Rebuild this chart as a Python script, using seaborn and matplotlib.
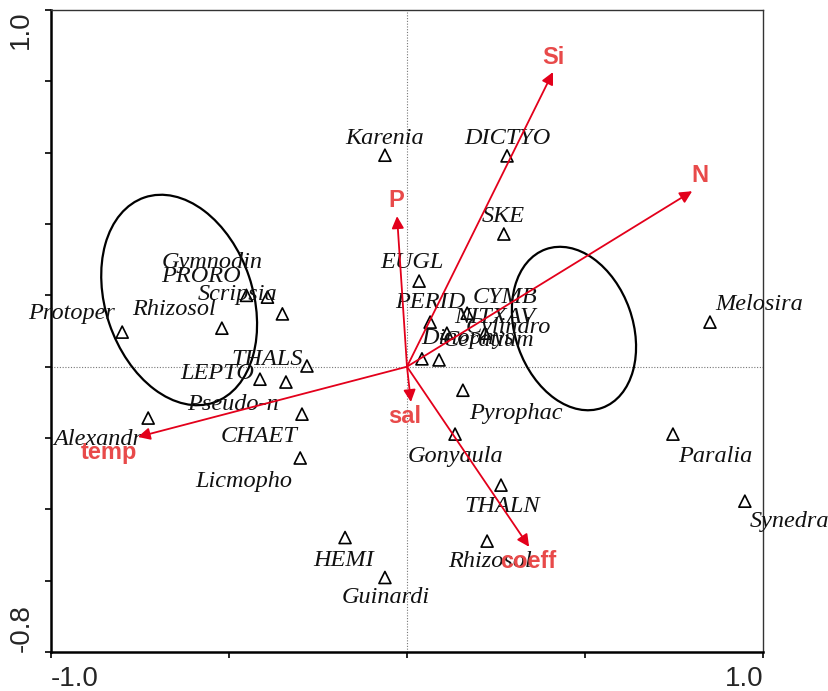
import numpy as np
import pandas as pd
import seaborn as sns
import matplotlib.pyplot as plt
from matplotlib.patches import Ellipse

# Species scores (axis 1, axis 2)
species = ["Karenia", "DICTYO", "SKE", "EUGL", "PERID", "CYMB", "NITXAV", "Cylindro",
           "Dinophys", "Ceratium", "Gymnodin", "PRORO", "Scripsia", "Rhizosol", "Protoper",
           "THALS", "LEPTO", "Pseudo-n", "CHAET", "Alexandr", "Licmopho", "HEMI", "Guinardi",
           "Pyrophac", "Gonyaula", "THALN", "Rhizosol", "Paralia", "Synedra", "Melosira"]
sp_x = [-0.062, 0.281, 0.272, 0.034, 0.065, 0.169, 0.112, 0.219,
        0.042, 0.090, -0.451, -0.392, -0.350, -0.520, -0.800,
        -0.281, -0.413, -0.340, -0.295, -0.727, -0.300, -0.174, -0.062,
        0.157, 0.135, 0.264, 0.225, 0.747, 0.949, 0.851]
sp_y = [0.593, 0.591, 0.372, 0.240, 0.125, 0.150, 0.094, 0.094,
        0.022, 0.019, 0.200, 0.195, 0.148, 0.108, 0.097,
        0.002, -0.035, -0.043, -0.133, -0.144, -0.256, -0.479, -0.591,
        -0.066, -0.189, -0.332, -0.489, -0.189, -0.377, 0.125]
# label anchor positions (as drawn in the figure)
lab_x = [-0.062, 0.281, 0.270, 0.014, 0.065, 0.275, 0.247, 0.284,
         0.171, 0.230, -0.548, -0.579, -0.475, -0.654, -0.941,
         -0.393, -0.534, -0.489, -0.416, -0.868, -0.458, -0.177, -0.059,
         0.306, 0.135, 0.267, 0.233, 0.865, 1.075, 0.989]
lab_y = [0.641, 0.641, 0.422, 0.291, 0.179, 0.195, 0.139, 0.111,
         0.080, 0.074, 0.293, 0.254, 0.201, 0.159, 0.150,
         0.021, -0.018, -0.105, -0.197, -0.205, -0.323, -0.542, -0.648,
         -0.130, -0.253, -0.393, -0.547, -0.253, -0.434, 0.173]

# Environmental variables (arrow tips and label positions)
env = ["Si", "N", "P", "sal", "temp", "coeff"]
env_x = [0.410, 0.801, -0.028, 0.011, -0.756, 0.343]
env_y = [0.826, 0.492, 0.422, -0.099, -0.197, -0.505]
env_lx = [0.410, 0.823, -0.031, -0.006, -0.837, 0.340]
env_ly = [0.868, 0.537, 0.467, -0.141, -0.240, -0.547]

# Group ellipses: centre x, centre y, width, height, angle
ell_cx = [-0.640, 0.469]
ell_cy = [0.187, 0.107]
ell_w = [0.607, 0.472]
ell_h = [0.414, 0.330]
ell_ang = [108.7, 109.6]

df = pd.DataFrame({"name": species, "x": sp_x, "y": sp_y})

sns.set_style("white")
plt.rcParams["font.family"] = ["Liberation Sans", "DejaVu Sans"]

fig = plt.figure(figsize=(8.29, 6.91), dpi=100)
ax = fig.add_axes([0.0615, 0.0564, 0.8589, 0.9291])

ax.axhline(0, color="#777777", lw=0.8, ls=(0, (1, 1.5)), zorder=1)
ax.axvline(0, color="#777777", lw=0.8, ls=(0, (1, 1.5)), zorder=1)

sns.scatterplot(data=df, x="x", y="y", marker="^", s=75, facecolor="none",
                edgecolor="black", linewidth=1.2, ax=ax, zorder=3, legend=False)

for i, name in enumerate(species):
    ax.text(lab_x[i], lab_y[i], name, family=["Liberation Serif", "DejaVu Serif"],
            style="italic", fontsize=17.5, ha="center", va="center", color="#111111", zorder=4)

for cx, cy, w, h, a in zip(ell_cx, ell_cy, ell_w, ell_h, ell_ang):
    ax.add_patch(Ellipse((cx, cy), w, h, angle=a, fill=False, ec="black", lw=1.6, zorder=2))

for i, name in enumerate(env):
    ax.annotate("", xy=(env_x[i], env_y[i]), xytext=(0, 0),
                arrowprops=dict(arrowstyle="-|>", color="#e3001b", lw=1.3,
                                mutation_scale=18, shrinkA=0, shrinkB=0), zorder=5)
    ax.text(env_lx[i], env_ly[i], name, fontsize=17, fontweight="bold",
            color="#e84a4a", ha="center", va="center", zorder=6)

ax.set_xlim(-1.0, 1.0)
ax.set_ylim(-0.8, 1.0)
ax.set_xlabel("")
ax.set_ylabel("")

xt = [-1.0, -0.5, 0.0, 0.5, 1.0]
ax.set_xticks(xt)
ax.set_xticklabels(["-1.0", "", "", "", "1.0"], fontsize=20)
xl = ax.get_xticklabels()
xl[0].set_ha("left")
xl[-1].set_ha("right")

yt = [-0.8, -0.6, -0.4, -0.2, 0.0, 0.2, 0.4, 0.6, 0.8, 1.0]
ax.set_yticks(yt)
ax.set_yticklabels(["-0.8"] + [""] * 8 + ["1.0"], fontsize=20, rotation=90)
yl = ax.get_yticklabels()
yl[0].set_va("bottom")
yl[-1].set_va("top")

ax.tick_params(axis="both", direction="out", length=4, width=1.2, color="black")
ax.tick_params(axis="x", pad=6, bottom=True)
ax.tick_params(axis="y", pad=8, left=True)
for side in ["top", "right"]:
    ax.spines[side].set_linewidth(1.0)
    ax.spines[side].set_color("#333333")
for side in ["left", "bottom"]:
    ax.spines[side].set_linewidth(1.8)
    ax.spines[side].set_color("black")

fig.savefig("out.png", dpi=100)
